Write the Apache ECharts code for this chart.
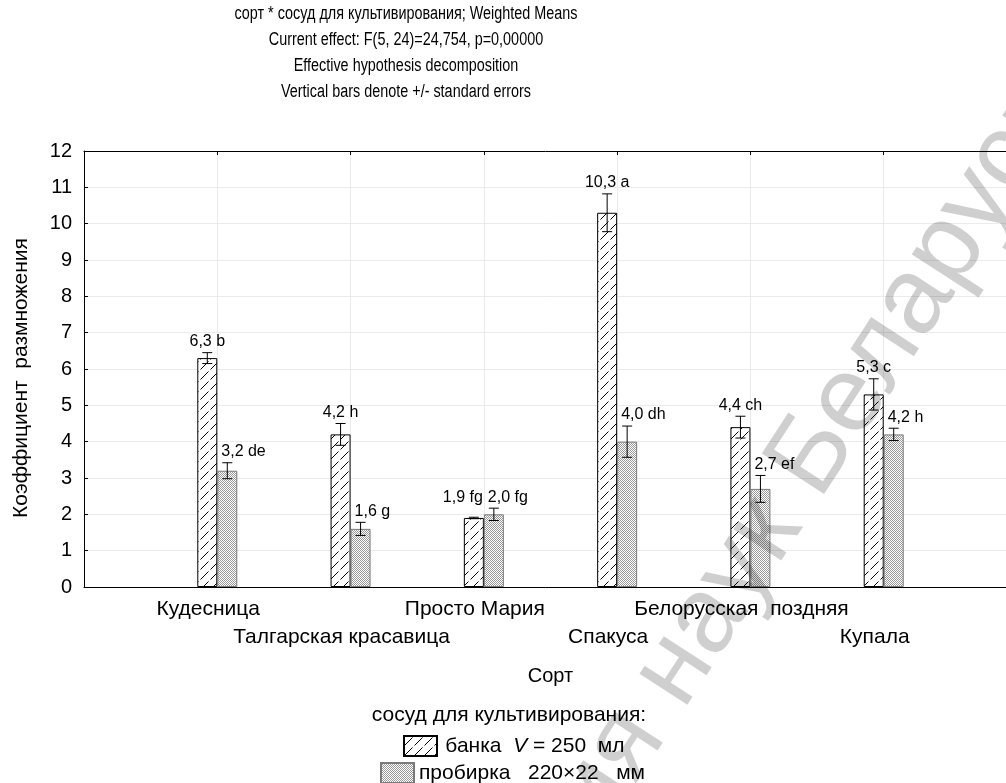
<!DOCTYPE html>
<html>
<head>
<meta charset="utf-8">
<title>Коэффициент размножения</title>
<script src="https://cdn.jsdelivr.net/npm/echarts@6/dist/echarts.min.js"></script>
<style>
    html, body { margin: 0; padding: 0; background: #fff; }
    #chart { width: 1006px; height: 783px; }
</style>
</head>
<body>
<div id="chart"></div>
<script>
// Chart data
// ------------------------------
var categories = ['Кудесница', 'Талгарская красавица', 'Просто Мария', 'Спакуса', 'Белорусская  поздняя', 'Купала'];
var jarMeans = [6.3, 4.2, 1.9, 10.3, 4.4, 5.3];
var jarErrors = [0.15, 0.3, 0.02, 0.52, 0.3, 0.43];
var jarLetters = ['b', 'h', 'fg', 'a', 'ch', 'c'];
var tubeMeans = [3.2, 1.6, 2.0, 4.0, 2.7, 4.2];
var tubeErrors = [0.22, 0.18, 0.17, 0.43, 0.37, 0.17];
var tubeLetters = ['de', 'g', 'fg', 'dh', 'ef', 'h'];
var seriesNames = ['банка', 'пробирка'];
var titleLines = [
    'сорт * сосуд для культивирования; Weighted Means',
    'Current effect: F(5, 24)=24,754, p=0,00000',
    'Effective hypothesis decomposition',
    'Vertical bars denote +/- standard errors'
];

var FONT = '"Liberation Sans", Arial, sans-serif';
var BAR_W = 20;

// Fill patterns
// ------------------------------
var makeHatch = function () {
    var c = document.createElement('canvas');
    c.width = 10; c.height = 10;
    var ctx = c.getContext('2d');
    ctx.fillStyle = '#fff';
    ctx.fillRect(0, 0, 10, 10);
    ctx.strokeStyle = '#000';
    ctx.lineWidth = 1;
    ctx.beginPath();
    ctx.moveTo(0.5, 9.5);
    ctx.lineTo(8.5, 1.5);
    ctx.stroke();
    return c;
};

var makeCross = function () {
    var c = document.createElement('canvas');
    c.width = 4; c.height = 4;
    var ctx = c.getContext('2d');
    ctx.fillStyle = '#fff';
    ctx.fillRect(0, 0, 4, 4);
    ctx.fillStyle = '#9a9a9a';
    for (var x = 0; x < 4; x++) {
        for (var y = 0; y < 4; y++) {
            if ((x + y) % 2 === 0) ctx.fillRect(x, y, 1, 1);
        }
    }
    return c;
};

var hatchFill = { image: makeHatch(), repeat: 'repeat' };
var crossFill = { image: makeCross(), repeat: 'repeat' };

// Padded category list so that groups sit on ticks 1..6
var axisData = [''].concat(categories).concat(['']);
var pad = function (arr) { return ['-'].concat(arr).concat(['-']); };

var fmtNum = function (v) { return v.toFixed(1).replace('.', ','); };

var errorData = [];
categories.forEach(function (c, i) {
    errorData.push([i + 1, jarMeans[i], jarErrors[i], 0, i]);
    errorData.push([i + 1, tubeMeans[i], tubeErrors[i], 1, i]);
});

var renderError = function (params, api) {
    var cat = api.value(0), mean = api.value(1), se = api.value(2);
    var grp = api.value(3), idx = api.value(4);
    var top = api.coord([cat, mean + se]);
    var bot = api.coord([cat, mean - se]);
    var x = top[0] + (grp === 0 ? -BAR_W / 2 : BAR_W / 2);
    var cap = 5;
    var style = { stroke: '#000', lineWidth: 1 };
    var label, align, lx, ly = top[1] - 3;
    if (grp === 0) {
        label = fmtNum(jarMeans[idx]) + ' ' + jarLetters[idx];
        var tubeTop = api.coord([cat, tubeMeans[idx] + tubeErrors[idx]])[1];
        if (Math.abs(tubeTop - top[1]) < 22) {
            align = 'right';
            lx = x + 9;
            ly = Math.min(tubeTop, top[1]) - 3;
        } else {
            align = 'center';
            lx = x;
        }
    } else {
        label = fmtNum(tubeMeans[idx]) + ' ' + tubeLetters[idx];
        align = 'left';
        lx = x - 6;
    }
    return {
        type: 'group',
        children: [
            { type: 'line', shape: { x1: x, y1: top[1], x2: x, y2: bot[1] }, style: style },
            { type: 'line', shape: { x1: x - cap, y1: top[1], x2: x + cap, y2: top[1] }, style: style },
            { type: 'line', shape: { x1: x - cap, y1: bot[1], x2: x + cap, y2: bot[1] }, style: style },
            {
                type: 'text', x: lx, y: ly,
                style: { text: label, font: '16px ' + FONT, fill: '#000', align: align, verticalAlign: 'bottom' }
            }
        ]
    };
};

var legendText = {
    'банка': ' {t|банка  }{i|V}{t| = 250  мл}',
    'пробирка': '{t|пробирка   220×22   мм}'
};
var legendRich = {
    t: { fontSize: 21, fontFamily: FONT, color: '#000' },
    i: { fontSize: 21, fontFamily: FONT, color: '#000', fontStyle: 'italic' }
};

var chart = echarts.init(document.getElementById('chart'));

var options = {
    animation: false,
    backgroundColor: '#fff',
    textStyle: { fontFamily: FONT },
    grid: { left: 84, right: -11, top: 151, bottom: 196, outerBoundsMode: 'none', containLabel: false },
    legend: [
        {
            data: [seriesNames[0]], left: 403, top: 735, padding: 0,
            itemWidth: 33, itemHeight: 20, icon: 'rect',
            formatter: function (n) { return legendText[n]; },
            textStyle: { rich: legendRich }
        },
        {
            data: [seriesNames[1]], left: 380, top: 762, padding: 0,
            itemWidth: 33, itemHeight: 20, icon: 'rect',
            formatter: function (n) { return legendText[n]; },
            textStyle: { rich: legendRich }
        }
    ],
    graphic: [
        {
            // condensed title, as in the original export
            type: 'text', x: 406, y: 1, scaleX: 0.8,
            style: { text: titleLines.join('\n'), font: '18px ' + FONT, lineHeight: 26, align: 'center', verticalAlign: 'top', fill: '#000' }
        },
        {
            type: 'text', x: 509, y: 715,
            style: { text: 'сосуд для культивирования:', font: '21px ' + FONT, align: 'center', verticalAlign: 'middle', fill: '#000' }
        },
        // watermark of the source document
        {
            type: 'text', x: 642, y: 720, rotation: 57 * Math.PI / 180, z: 100, silent: true,
            style: { text: ' наук Беларуси', font: '108px ' + FONT, align: 'left', verticalAlign: 'middle', fill: 'rgba(0,0,0,0.19)' }
        },
        {
            type: 'text', x: 642, y: 720, rotation: 57 * Math.PI / 180, z: 100, silent: true,
            style: { text: 'Национальная академия', font: '108px ' + FONT, align: 'right', verticalAlign: 'middle', fill: 'rgba(0,0,0,0.19)' }
        }
    ],
    xAxis: [
        {
            type: 'category',
            data: axisData,
            boundaryGap: false,
            name: 'Сорт',
            nameLocation: 'middle',
            nameGap: 79,
            nameTextStyle: { fontSize: 20, color: '#000', fontFamily: FONT },
            axisLine: { show: true, lineStyle: { color: '#000', width: 1 } },
            axisTick: { show: false },
            splitLine: { show: true, lineStyle: { color: '#ebebeb', width: 1 } },
            axisLabel: {
                interval: 0,
                margin: 8,
                lineHeight: 28,
                color: '#000',
                formatter: function (value, index) {
                    if (!value) return '';
                    return (index % 2 === 0 ? '\n' : '') + '{n|' + value + '}';
                },
                rich: {
                    n: { fontSize: 21, fontFamily: FONT, color: '#000', lineHeight: 28, padding: [0, 18, 0, 0] }
                }
            }
        },
        {
            type: 'category',
            position: 'top',
            data: axisData,
            boundaryGap: false,
            axisLine: { show: true, lineStyle: { color: '#000', width: 1 } },
            axisTick: { show: true, inside: true, length: 4, interval: 0, lineStyle: { color: '#000' } },
            axisLabel: { show: false },
            splitLine: { show: false }
        }
    ],
    yAxis: {
        type: 'value',
        min: 0,
        max: 12,
        interval: 1,
        name: 'Коэффициент  размножения',
        nameLocation: 'middle',
        nameGap: 52,
        nameTextStyle: { fontSize: 21, color: '#000', fontFamily: FONT, padding: [0, 18, 0, 0] },
        axisLine: { show: true, lineStyle: { color: '#000', width: 1 } },
        axisTick: { show: true, inside: true, length: 4, lineStyle: { color: '#000' } },
        axisLabel: { fontSize: 20, color: '#000', margin: 12 },
        splitLine: { show: true, lineStyle: { color: '#ebebeb', width: 1 } }
    },
    series: [
        {
            name: seriesNames[0],
            type: 'bar',
            barWidth: BAR_W,
            barGap: '0%',
            data: pad(jarMeans),
            itemStyle: { color: hatchFill, borderColor: '#000', borderWidth: 1 }
        },
        {
            name: seriesNames[1],
            type: 'bar',
            barWidth: BAR_W,
            barGap: '0%',
            data: pad(tubeMeans),
            itemStyle: { color: crossFill, borderColor: '#7a7a7a', borderWidth: 1 }
        },
        {
            type: 'custom',
            name: 'se',
            renderItem: renderError,
            data: errorData,
            encode: { x: 0, y: 1 },
            clip: false,
            z: 5
        }
    ]
};

chart.setOption(options);

window.addEventListener('resize', function () {
    chart.resize();
});
</script>
</body>
</html>
